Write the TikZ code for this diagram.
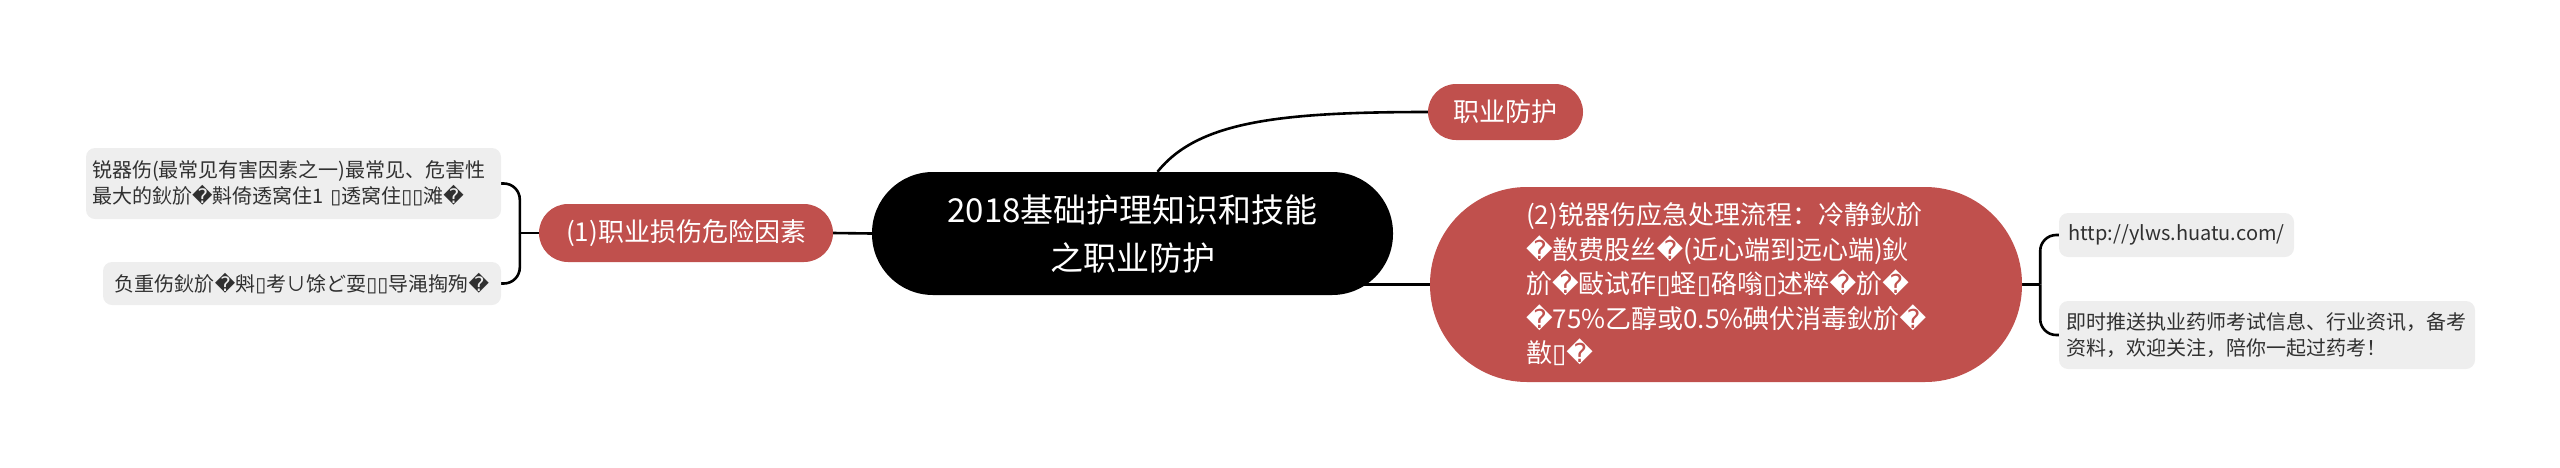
\documentclass[tikz,border=0pt]{standalone}
\usepackage{fontspec}
\setmainfont{Noto Sans CJK SC}
\newfontfamily\dv{DejaVu Sans}
\usetikzlibrary{backgrounds}
\newcommand{\rp}{{\dv\char"FFFD}}
\newcommand{\tf}{{\dv\char"25AF}}
\definecolor{pillred}{HTML}{C0504D}
\definecolor{boxgray}{HTML}{EEEEEE}
\definecolor{boxtext}{HTML}{303030}
\tikzset{
  conn/.style={line width=2.6pt, black},
  rootnode/.style={fill=black, text=white, rounded corners=61pt, minimum width=521pt, minimum height=123pt,
    font=\fontsize{33}{48}\selectfont, align=center, inner sep=0pt},
  pillnode/.style={fill=pillred, text=white, font=\fontsize{26}{34.5}\selectfont, inner sep=0pt},
  graybox/.style={fill=boxgray, text=boxtext, rounded corners=9pt, font=\fontsize{20}{26.5}\selectfont, inner sep=0pt}
}
\begin{document}
\begin{tikzpicture}[x=1pt,y=-1pt]
\useasboundingbox (0,0) rectangle (2560,467);
% nodes
\node[rootnode] (root) at (1132.5,233.5) {2018基础护理知识和技能\\之职业防护};
\node[pillnode, rounded corners=28pt, minimum width=155pt, minimum height=56pt] (zy) at (1505.5,112) {职业防护};
\node[pillnode, rounded corners=29pt, minimum width=294pt, minimum height=58pt] (n1) at (686,233) {(1)职业损伤危险因素};
\node[pillnode, rounded corners=97pt, minimum width=592pt, minimum height=195pt, text width=400pt, align=left] (n2) at (1726,284.5)
  {(2)锐器伤应急处理流程：冷静鈥斺\\
   \rp 敾费股丝\rp(近心端到远心端)鈥\\
   斺\rp 敺试砟\tf 蛏\tf 硌嗡\tf 述粹\rp 斺\rp\\
   \rp 75\%乙醇或0.5\%碘伏消毒鈥斺\rp\\
   敾\tf\rp};
\node[graybox, minimum width=415pt, minimum height=71pt, text width=403pt, align=left] (b1) at (293.5,183.5)
  {锐器伤(最常见有害因素之一)最常见、危害性\\最大的鈥斺\rp 斢倚透窝住1 \tf 透窝住\tf\tf 滩\rp};
\node[graybox, minimum width=398pt, minimum height=43pt] (b2) at (302,283.5)
  {负重伤鈥斺\rp 斞\tf 考∪馀ど耍\tf\tf 导渑掏殉\rp};
\node[graybox, minimum width=235pt, minimum height=44pt] (b3) at (2176.5,235) {http://ylws.huatu.com/};
\node[graybox, minimum width=416pt, minimum height=68pt, text width=402pt, align=left] (b4) at (2267,335)
  {即时推送执业药师考试信息、行业资讯，备考\\资料，欢迎关注，陪你一起过药考！};
% connectors
\begin{pgfonlayer}{background}
\draw[conn] (root.west) -- (n1.east);
\draw[conn] ([xshift=25pt]root.north) .. controls +(40,-50) and +(-150,0) .. (zy.west);
\draw[conn] (n2.west) -- (n2.west -| root.center);
\coordinate (lj) at ([xshift=-19pt]n1.west);
\draw[conn] (n1.west) -- (lj);
\draw[conn, rounded corners=16pt] (lj) |- (b1.east);
\draw[conn, rounded corners=16pt] (lj) |- (b2.east);
\coordinate (rj) at ([xshift=18pt]n2.east);
\draw[conn] (n2.east) -- (rj);
\draw[conn, rounded corners=16pt] (rj) |- (b3.west);
\draw[conn, rounded corners=16pt] (rj) |- (b4.west);
\end{pgfonlayer}
\end{tikzpicture}
\end{document}
